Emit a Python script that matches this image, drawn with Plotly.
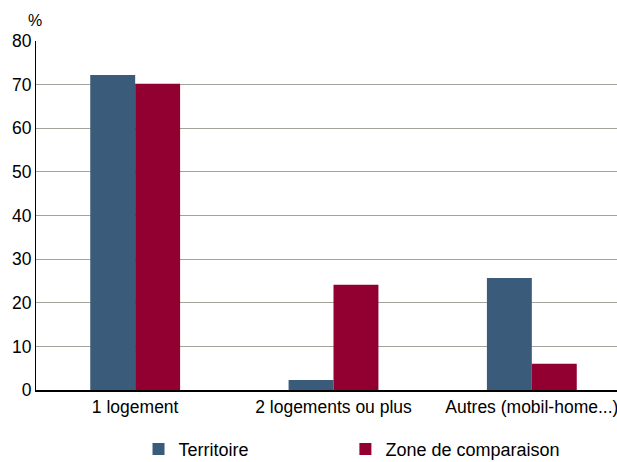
import plotly.graph_objects as go

categories = ["1 logement", "2 logements ou plus", "Autres (mobil-home...)"]
territoire = [72.2, 2.3, 25.7]
zone_comparaison = [70.2, 24.1, 6.0]
y_ticks = [0, 10, 20, 30, 40, 50, 60, 70, 80]

fig = go.Figure()
fig.add_trace(go.Bar(name="Territoire", x=categories, y=territoire, legend="legend",
                     marker=dict(color="#3B5B7B", line=dict(width=0))))
fig.add_trace(go.Bar(name="Zone de comparaison", x=categories, y=zone_comparaison,
                     legend="legend2",
                     marker=dict(color="#910030", line=dict(width=0))))

legend_common = dict(orientation="h", xanchor="left", y=-0.17, yanchor="middle",
                     font=dict(size=18), itemsizing="constant",
                     bgcolor="rgba(0,0,0,0)")

fig.update_layout(
    width=631, height=462,
    margin=dict(l=36, r=0, t=41, b=72, autoexpand=False),
    paper_bgcolor="white", plot_bgcolor="white",
    font=dict(family="Liberation Sans, Arial, sans-serif", size=17.5, color="#000"),
    barmode="group", bargap=0.547, bargroupgap=0,
    showlegend=True,
    legend=dict(x=0.1723, **legend_common),
    legend2=dict(x=0.520, **legend_common),
    xaxis=dict(showline=True, linecolor="#000", linewidth=2, ticks="",
               tickfont=dict(size=17.5), fixedrange=True, automargin=False),
    yaxis=dict(range=[0, 80], tickvals=y_ticks, showgrid=True, gridcolor="#A3A39B",
               gridwidth=1, showline=True, linecolor="#000", linewidth=1,
               ticks="", tickfont=dict(size=17.5), zeroline=False, fixedrange=True,
               automargin=False),
    annotations=[dict(text="%", xref="paper", yref="paper", x=0.0131, y=1.0,
                      xanchor="right", yanchor="bottom", yshift=10, showarrow=False,
                      font=dict(size=16))],
)

fig.write_html("out.html", config={"displayModeBar": False},
               post_script="document.body.style.margin='0px';document.body.style.overflow='hidden';")
